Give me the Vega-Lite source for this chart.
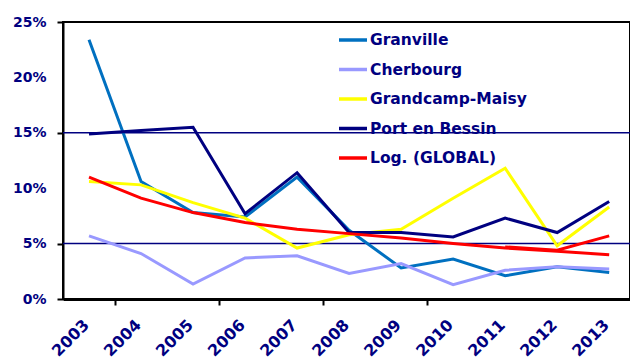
{
  "$schema": "https://vega.github.io/schema/vega-lite/v6.json",
  "width": 567,
  "height": 277,
  "autosize": "none",
  "padding": {"left": 63, "top": 22, "right": 0, "bottom": 62},
  "background": "white",
  "config": {
    "view": {"stroke": "black", "strokeWidth": 2},
    "axis": {"labelFont": "DejaVu Sans", "labelFontWeight": "bold", "labelColor": "#000080", "labelFontSize": 14, "grid": false, "domainColor": "black", "tickColor": "black", "title": null}
  },
  "datasets": {
    "series": [
      {"year": 2003, "v": 0.234, "s": "Granville"},
      {"year": 2004, "v": 0.106, "s": "Granville"},
      {"year": 2005, "v": 0.078, "s": "Granville"},
      {"year": 2006, "v": 0.074, "s": "Granville"},
      {"year": 2007, "v": 0.110, "s": "Granville"},
      {"year": 2008, "v": 0.062, "s": "Granville"},
      {"year": 2009, "v": 0.028, "s": "Granville"},
      {"year": 2010, "v": 0.036, "s": "Granville"},
      {"year": 2011, "v": 0.021, "s": "Granville"},
      {"year": 2012, "v": 0.029, "s": "Granville"},
      {"year": 2013, "v": 0.024, "s": "Granville"},
      {"year": 2003, "v": 0.057, "s": "Cherbourg"},
      {"year": 2004, "v": 0.041, "s": "Cherbourg"},
      {"year": 2005, "v": 0.0135, "s": "Cherbourg"},
      {"year": 2006, "v": 0.037, "s": "Cherbourg"},
      {"year": 2007, "v": 0.039, "s": "Cherbourg"},
      {"year": 2008, "v": 0.023, "s": "Cherbourg"},
      {"year": 2009, "v": 0.032, "s": "Cherbourg"},
      {"year": 2010, "v": 0.013, "s": "Cherbourg"},
      {"year": 2011, "v": 0.026, "s": "Cherbourg"},
      {"year": 2012, "v": 0.029, "s": "Cherbourg"},
      {"year": 2013, "v": 0.027, "s": "Cherbourg"},
      {"year": 2003, "v": 0.106, "s": "Grandcamp-Maisy"},
      {"year": 2004, "v": 0.103, "s": "Grandcamp-Maisy"},
      {"year": 2005, "v": 0.087, "s": "Grandcamp-Maisy"},
      {"year": 2006, "v": 0.073, "s": "Grandcamp-Maisy"},
      {"year": 2007, "v": 0.046, "s": "Grandcamp-Maisy"},
      {"year": 2008, "v": 0.058, "s": "Grandcamp-Maisy"},
      {"year": 2009, "v": 0.063, "s": "Grandcamp-Maisy"},
      {"year": 2010, "v": 0.091, "s": "Grandcamp-Maisy"},
      {"year": 2011, "v": 0.118, "s": "Grandcamp-Maisy"},
      {"year": 2012, "v": 0.048, "s": "Grandcamp-Maisy"},
      {"year": 2013, "v": 0.083, "s": "Grandcamp-Maisy"},
      {"year": 2003, "v": 0.149, "s": "Port en Bessin"},
      {"year": 2004, "v": 0.152, "s": "Port en Bessin"},
      {"year": 2005, "v": 0.155, "s": "Port en Bessin"},
      {"year": 2006, "v": 0.077, "s": "Port en Bessin"},
      {"year": 2007, "v": 0.114, "s": "Port en Bessin"},
      {"year": 2008, "v": 0.060, "s": "Port en Bessin"},
      {"year": 2009, "v": 0.060, "s": "Port en Bessin"},
      {"year": 2010, "v": 0.056, "s": "Port en Bessin"},
      {"year": 2011, "v": 0.073, "s": "Port en Bessin"},
      {"year": 2012, "v": 0.060, "s": "Port en Bessin"},
      {"year": 2013, "v": 0.088, "s": "Port en Bessin"},
      {"year": 2003, "v": 0.110, "s": "Log. (GLOBAL)"},
      {"year": 2004, "v": 0.091, "s": "Log. (GLOBAL)"},
      {"year": 2005, "v": 0.078, "s": "Log. (GLOBAL)"},
      {"year": 2006, "v": 0.069, "s": "Log. (GLOBAL)"},
      {"year": 2007, "v": 0.063, "s": "Log. (GLOBAL)"},
      {"year": 2008, "v": 0.059, "s": "Log. (GLOBAL)"},
      {"year": 2009, "v": 0.055, "s": "Log. (GLOBAL)"},
      {"year": 2010, "v": 0.050, "s": "Log. (GLOBAL)"},
      {"year": 2011, "v": 0.046, "s": "Log. (GLOBAL)"},
      {"year": 2012, "v": 0.043, "s": "Log. (GLOBAL)"},
      {"year": 2013, "v": 0.040, "s": "Log. (GLOBAL)"}
    ],
    "global": [
      {"year": 2011, "v": 0.047},
      {"year": 2012, "v": 0.044},
      {"year": 2013, "v": 0.057}
    ],
    "grid": [{"g": 0.05}, {"g": 0.15}]
  },
  "layer": [
    {
      "data": {"name": "grid"},
      "mark": {"type": "rule", "color": "#000080", "strokeWidth": 1.5},
      "encoding": {"y": {"field": "g", "type": "quantitative", "scale": {"domain": [0, 0.25]}}}
    },
    {
      "data": {"name": "global"},
      "mark": {"type": "line", "color": "#FF0000", "strokeWidth": 3},
      "encoding": {
        "x": {"field": "year", "type": "quantitative"},
        "y": {"field": "v", "type": "quantitative"}
      }
    },
    {
      "data": {"name": "series"},
      "mark": {"type": "line", "strokeWidth": 3},
      "encoding": {
        "x": {
          "field": "year", "type": "quantitative",
          "scale": {"domain": [2002.5, 2013.4], "nice": false, "zero": false},
          "axis": {
            "values": [2003, 2004, 2005, 2006, 2007, 2008, 2009, 2010, 2011, 2012, 2013],
            "format": "d", "labelAngle": -45, "labelAlign": "right", "labelBaseline": "middle",
            "labelFontSize": 16,
            "domainWidth": 3, "tickSize": 6, "tickWidth": 2, "tickOffset": 26, "labelOffset": -29,
            "labelPadding": 17, "labelFlush": false, "labelOverlap": false, "labelBound": false,
            "tickOpacity": {"condition": {"test": "datum.value == 2003 || datum.value == 2005 || datum.value == 2007 || datum.value == 2009", "value": 1}, "value": 0}
          }
        },
        "y": {
          "field": "v", "type": "quantitative",
          "scale": {"domain": [0, 0.25], "nice": false},
          "axis": {
            "values": [0, 0.05, 0.1, 0.15, 0.2, 0.25], "format": ".0%",
            "domainWidth": 2, "tickSize": 6, "tickWidth": 2, "labelPadding": 11,
            "labelFlush": false, "labelOverlap": false,
            "tickOpacity": {"condition": {"test": "datum.value > 0.09 && datum.value < 0.11 || datum.value > 0.19 && datum.value < 0.21", "value": 0}, "value": 1}
          }
        },
        "color": {
          "field": "s", "type": "nominal", "sort": null,
          "scale": {
            "domain": ["Granville", "Cherbourg", "Grandcamp-Maisy", "Port en Bessin", "Log. (GLOBAL)"],
            "range": ["#0070C0", "#9999FF", "#FFFF00", "#000080", "#FF0000"]
          },
          "legend": {
            "title": null, "orient": "none", "legendX": 274, "legendY": 2,
            "symbolType": "stroke", "symbolSize": 784, "symbolStrokeWidth": 3.5,
            "labelFont": "DejaVu Sans", "labelFontWeight": "bold", "labelFontSize": 15.5, "labelColor": "#000080",
            "labelOffset": 1, "rowPadding": 4.5, "labelLimit": 300
          }
        }
      }
    }
  ]
}
